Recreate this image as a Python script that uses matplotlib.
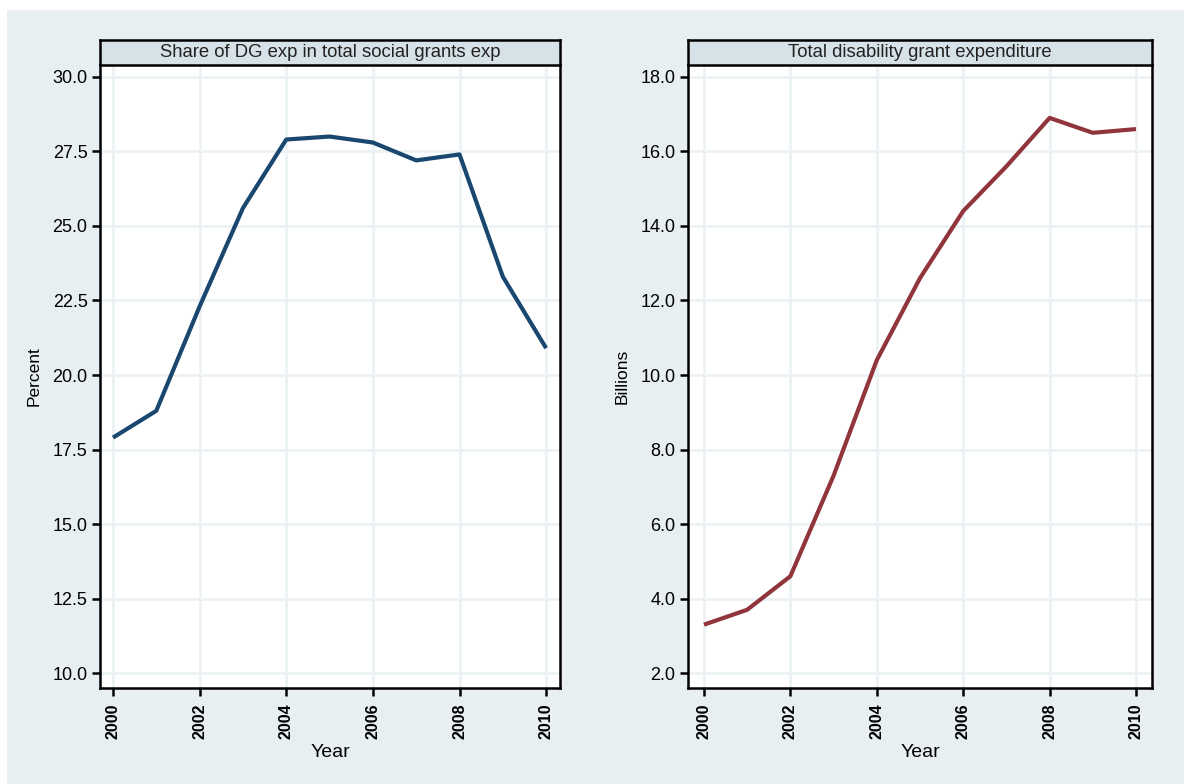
import matplotlib.pyplot as plt
from matplotlib.patches import Rectangle

years = list(range(2000, 2011))
share_pct = [17.9, 18.8, 22.3, 25.6, 27.9, 28.0, 27.8, 27.2, 27.4, 23.3, 20.9]
total_bn = [3.3, 3.7, 4.6, 7.3, 10.4, 12.6, 14.4, 15.6, 16.9, 16.5, 16.6]

left_title = "Share of DG exp in total social grants exp"
right_title = "Total disability grant expenditure"
left_yticks = [10.0, 12.5, 15.0, 17.5, 20.0, 22.5, 25.0, 27.5, 30.0]
right_yticks = [2.0, 4.0, 6.0, 8.0, 10.0, 12.0, 14.0, 16.0, 18.0]
xticks = [2000, 2002, 2004, 2006, 2008, 2010]

BG = "#e8eff2"
STRIP = "#d6e1e8"
GRID = "#edf2f4"

plt.rcParams["font.family"] = ["Liberation Sans", "DejaVu Sans"]

W, H = 1184, 784
fig = plt.figure(figsize=(W / 100, H / 100), dpi=100, facecolor="white")
fig.patches.append(Rectangle((7 / W, 0), 1, 1 - 10 / H, transform=fig.transFigure,
                             facecolor=BG, edgecolor="none", zorder=-10))


def panel(x0, x1, title, y, yticks, ylim, ylabel, color, xlim):
    top, strip_bot, bot = 40, 65, 688
    ax = fig.add_axes([x0 / W, 1 - bot / H, (x1 - x0) / W, (bot - strip_bot) / H])
    ax.set_facecolor("white")
    ax.plot(years, y, color=color, lw=3, solid_capstyle="butt", zorder=3)
    ax.set_xlim(*xlim)
    ax.set_ylim(*ylim)
    ax.set_xticks(xticks)
    ax.set_yticks(yticks)
    ax.set_yticklabels([f"{v:.1f}" for v in yticks], fontsize=13)
    ax.set_xticklabels([str(v) for v in xticks], rotation=90, fontsize=11.5,
                       fontweight="bold")
    ax.tick_params(direction="out", length=6, width=1.8, color="black", pad=3)
    ax.tick_params(axis="x", pad=5)
    ax.grid(True, color=GRID, lw=2)
    ax.set_axisbelow(True)
    for s in ["left", "bottom", "right"]:
        ax.spines[s].set_linewidth(1.8)
        ax.spines[s].set_color("black")
    ax.spines["top"].set_visible(False)
    ax.set_xlabel("Year", fontsize=14, labelpad=4)
    ax.set_ylabel(ylabel, fontsize=12.5, labelpad=8)

    sax = fig.add_axes([x0 / W, 1 - strip_bot / H, (x1 - x0) / W, (strip_bot - top) / H])
    sax.set_facecolor(STRIP)
    sax.set_xticks([])
    sax.set_yticks([])
    for s in sax.spines.values():
        s.set_linewidth(1.8)
        s.set_color("black")
    sax.text(0.5, 0.5, title, ha="center", va="center", fontsize=13.3,
             color="#222222", transform=sax.transAxes)
    return ax


panel(100, 560, left_title, share_pct, left_yticks, (9.5, 30.4), "Percent",
      "#1a476f", (1999.7, 2010.32))
panel(688, 1152, right_title, total_bn, right_yticks, (1.6, 18.32), "Billions",
      "#90353b", (1999.63, 2010.37))

fig.savefig("out.png", dpi=100, facecolor=fig.get_facecolor())
